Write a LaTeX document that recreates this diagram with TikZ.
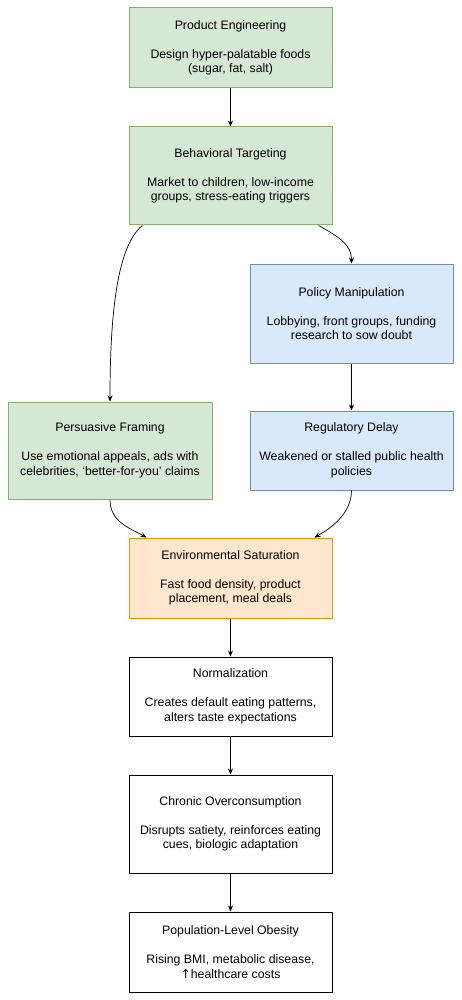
\documentclass[tikz,border=0pt]{standalone}
\usepackage{fontspec}
\setmainfont{Liberation Sans}
\newfontfamily\djv{DejaVu Sans}
\usetikzlibrary{arrows.meta}
\definecolor{gfill}{HTML}{D5E8D4}
\definecolor{gline}{HTML}{82B366}
\definecolor{bfill}{HTML}{DAE8FC}
\definecolor{bline}{HTML}{6C8EBF}
\definecolor{ofill}{HTML}{FFE6CC}
\definecolor{oline}{HTML}{D79B00}
\tikzset{
  box/.style={draw, line width=1pt, align=center, inner sep=0pt,
    minimum width=203pt, font=\fontsize{12.3}{14.5}\selectfont},
  gbox/.style={box, draw=gline, fill=gfill},
  bbox/.style={box, draw=bline, fill=bfill},
  obox/.style={box, draw=oline, fill=ofill},
  wbox/.style={box, draw=black, fill=white},
  arr/.style={draw=black, line width=0.7pt, -{Stealth[length=6pt,width=5pt]}}
}
\begin{document}
\begin{tikzpicture}[x=1pt,y=-1pt]
\useasboundingbox[fill=white] (0,0) rectangle (461,1000);
\node[gbox, minimum height=80pt] (pe) at (230.5,48) {Product Engineering\\[14.5pt]Design hyper-palatable foods\\(sugar, fat, salt)};
\node[gbox, minimum height=98pt] (bt) at (230.5,176) {Behavioral Targeting\\[14.5pt]Market to children, low-income\\groups, stress-eating triggers};
\node[bbox, minimum height=99pt] (pm) at (351.5,313.5) {Policy Manipulation\\[14.5pt]Lobbying, front groups, funding\\research to sow doubt};
\node[bbox, minimum height=79pt] (rd) at (351.5,450.5) {Regulatory Delay\\[14.5pt]Weakened or stalled public health\\policies};
\node[gbox, minimum width=204pt, minimum height=97pt] (pf) at (110,450.5) {Persuasive Framing\\[14.5pt]Use emotional appeals, ads with\\celebrities, ‘better-for-you’ claims};
\node[obox, minimum height=80pt] (es) at (230.5,578) {Environmental Saturation\\[14.5pt]Fast food density, product\\placement, meal deals};
\node[wbox, minimum height=79pt] (no) at (230.5,696.5) {Normalization\\[14.5pt]Creates default eating patterns,\\alters taste expectations};
\node[wbox, minimum height=98pt] (co) at (230.5,824) {Chronic Overconsumption\\[14.5pt]Disrupts satiety, reinforces eating\\cues, biologic adaptation};
\node[wbox, minimum height=80pt] (po) at (230.5,952) {Population-Level Obesity\\[14.5pt]Rising BMI, metabolic disease,\\{\djv ↑}healthcare costs};

\draw[arr] (pe.south) -- (bt.north);
\draw[arr] ([xshift=-88pt]bt.south) .. controls +(-25,20) and +(0,-90) .. (pf.north);
\draw[arr] ([xshift=88pt]bt.south) .. controls +(22,12) and +(0,-18) .. (pm.north);
\draw[arr] (pm.south) -- (rd.north);
\draw[arr] (pf.south) .. controls +(0,22) and +(-18,-10) .. ([xshift=-84pt]es.north);
\draw[arr] (rd.south) .. controls +(0,22) and +(18,-10) .. ([xshift=84pt]es.north);
\draw[arr] (es.south) -- (no.north);
\draw[arr] (no.south) -- (co.north);
\draw[arr] (co.south) -- (po.north);
\end{tikzpicture}
\end{document}
